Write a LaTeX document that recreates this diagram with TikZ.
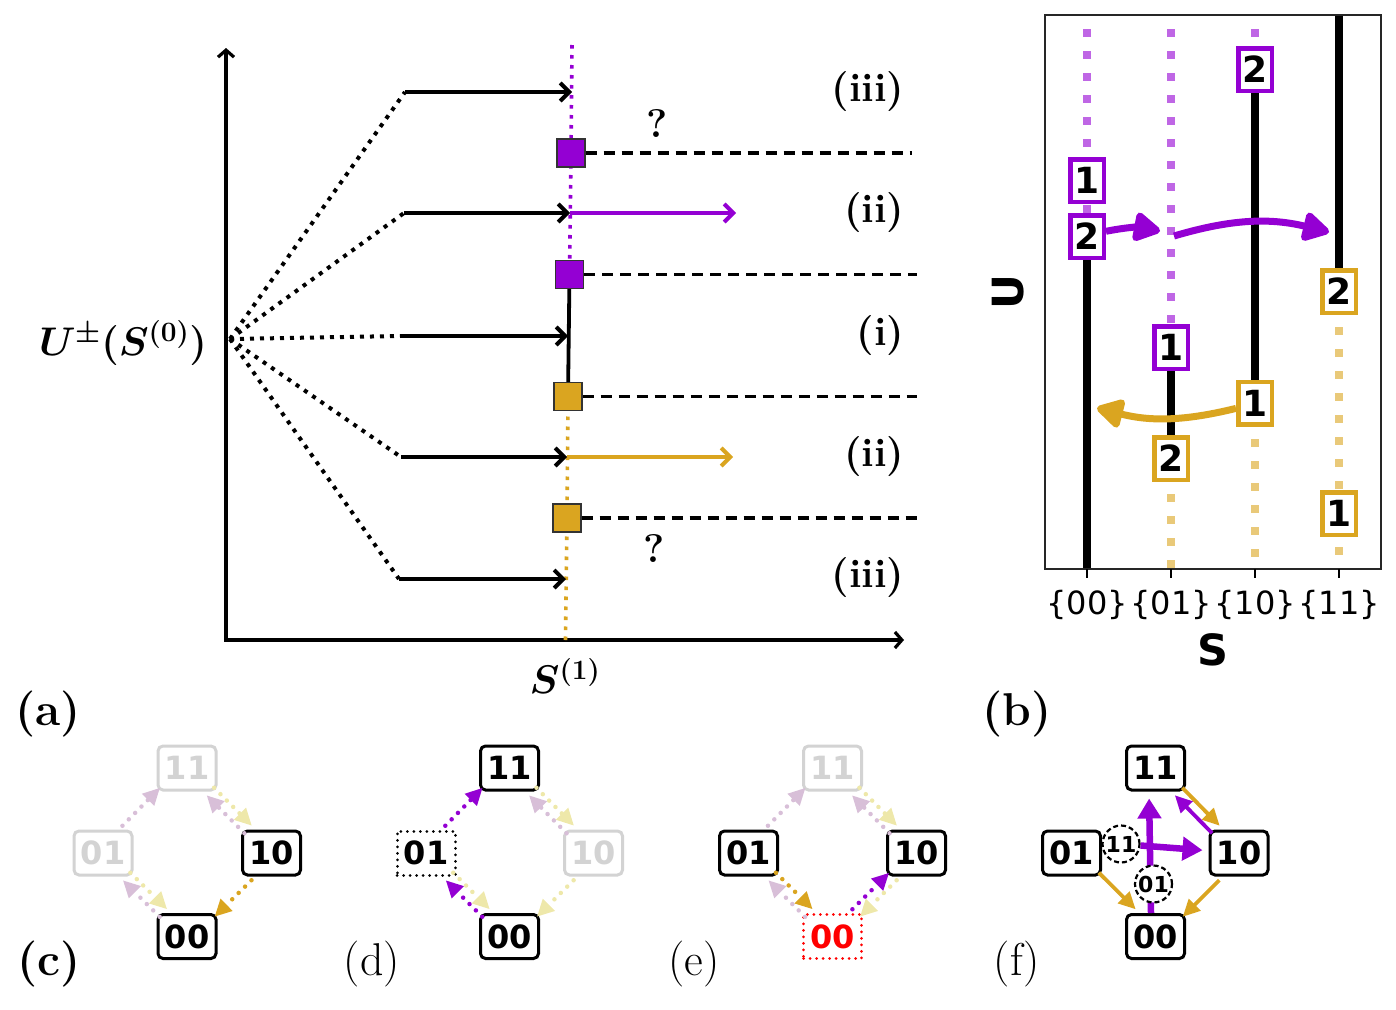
\RequirePackage{fix-cm}
\documentclass[tikz,border=0pt]{standalone}
\usepackage{amsmath}
\usepackage{fontspec}
\usetikzlibrary{arrows.meta}
\newfontfamily\dvs{DejaVu Sans}
\definecolor{dv}{HTML}{9400D3}
\definecolor{gd}{HTML}{DAA520}
\definecolor{lpb}{HTML}{BF66E5}
\definecolor{lgb}{HTML}{E9C979}
\definecolor{thi}{HTML}{D8BFD8}
\definecolor{pgy}{HTML}{EEE8AA}
\definecolor{lgr}{HTML}{D3D3D3}
\newcommand\fbig{\fontsize{40}{48}\selectfont}
\newcommand\fpan{\fontsize{46}{55}\selectfont}
\newcommand\fdig{\dvs\bfseries\fontsize{32}{38}\selectfont}
\newcommand\fbx{\dvs\bfseries\fontsize{36}{42}\selectfont}
\newcommand\fsmall{\dvs\bfseries\fontsize{22}{26}\selectfont}
\begin{document}
\begin{tikzpicture}[x=1pt,y=-1pt,
  fan/.style={line width=4pt, dash pattern=on 4pt off 6pt},
  harr/.style={line width=4pt, -{Straight Barb[length=9pt,width=18pt]}},
  vdot/.style={line width=3.6pt, dash pattern=on 3.6pt off 6.4pt},
  dsh/.style={line width=3.3pt, dash pattern=on 11pt off 7pt},
  sq/.style={draw=black!80, line width=1.3pt, minimum size=28pt, inner sep=0pt},
  lab/.style={font=\fbig\bfseries},
  pan/.style={font=\fpan},
  bl/.style={line width=7.5pt},
  bdot/.style={line width=8pt, dash pattern=on 8pt off 14pt, dash phase=8pt},
  bbox/.style={draw, line width=4.5pt, fill=white, minimum width=33.5pt, minimum height=42.5pt, inner sep=0pt, font=\fbx},
  bigarr/.style={line width=7pt, -{Triangle[length=30pt,width=32pt,round]}},
  st/.style={draw, rounded corners=5pt, line width=3pt, fill=white, minimum width=58pt, minimum height=44pt, inner sep=0pt, font=\fdig},
  gst/.style={st, draw=lgr, text=lgr},
  dotst/.style={st, sharp corners, dash pattern=on 0.01pt off 6.5pt, line cap=round},
  darr/.style={line width=4.5pt, dash pattern=on 0.01pt off 9pt, line cap=round, -{Triangle[length=17pt,width=16pt]}},
  sarr/.style={line width=3.8pt, -{Triangle[length=17pt,width=16pt]}},
  UR/.style={transform canvas={shift={(3.75,-3.75)}}},
  LL/.style={transform canvas={shift={(-3.75,3.75)}}},
  UL/.style={transform canvas={shift={(-3.75,-3.75)}}},
  LR/.style={transform canvas={shift={(3.75,3.75)}}},
  dc/.style={circle, draw, line width=2.2pt, dash pattern=on 5pt off 3pt, fill=white, minimum size=37pt, inner sep=0pt, font=\fsmall}]
\useasboundingbox (0,0) rectangle (1396,1009);

% ================= panel (a)
\draw[line width=3.2pt, {Straight Barb[length=7pt,width=16pt]}-{Straight Barb[length=7pt,width=16pt]}] (226,48) -- (226,640) -- (904,640);
\coordinate (O) at (230,339);
\coordinate (s1) at (405,92);  \coordinate (t1) at (572,92);
\coordinate (s2) at (404,213); \coordinate (t2) at (570,213);
\coordinate (s3) at (400,336); \coordinate (t3) at (568,336);
\coordinate (s4) at (401,457); \coordinate (t4) at (567,457);
\coordinate (s5) at (399,579); \coordinate (t5) at (566,579);
\coordinate (c1) at (571,153);
\coordinate (c2) at (569.5,274.5);
\coordinate (c3) at (568,396.5);
\coordinate (c4) at (567,518);
\coordinate (vtop) at (572,45);
\coordinate (vbot) at (565.5,640);
\draw[vdot, dv] (vtop) -- (c1) -- (c2);
\draw[line width=3.8pt] (c2) -- (c3);
\draw[vdot, gd] (c3) -- (c4) -- (vbot);
\foreach \i in {1,...,5} \draw[fan] (O) -- (s\i);
\coordinate (pu) at (736,213);
\coordinate (po) at (733,457);
\draw[harr, dv] (t2) -- (pu);
\draw[harr, gd] (t4) -- (po);
\foreach \i in {1,...,5} \draw[harr] (s\i) -- (t\i);
\node[sq, fill=dv] (q1) at (c1) {};
\node[sq, fill=dv] (q2) at (c2) {};
\node[sq, fill=gd] (q3) at (c3) {};
\node[sq, fill=gd] (q4) at (c4) {};
\coordinate (d1) at (912,153);
\coordinate (d2) at (917,274.5);
\coordinate (d3) at (917,396.5);
\coordinate (d4) at (917,518);
\draw[dsh] (q1) -- (d1);
\draw[dsh] (q2) -- (d2);
\draw[dsh] (q3) -- (d3);
\draw[dsh] (q4) -- (d4);
\node[lab, anchor=east] (r1) at (908,92) {(iii)};
\node[lab, anchor=east] (r2) at (908,213) {(ii)};
\node[lab, anchor=east] (r3) at (908,336) {(i)};
\node[lab, anchor=east] (r4) at (908,457) {(ii)};
\node[lab, anchor=east] (r5) at (908,578) {(iii)};
\node[lab] (qm1) at (657,123) {?};
\node[lab] (qm2) at (654,548) {?};
\node[font=\fbig] (ul) at (123,343) {$\boldsymbol{U^{\pm}(S^{(0)})}$};
\node[font=\fbig] (sl) at (565,676) {$\boldsymbol{S^{(1)}}$};
\node[font=\fpan\bfseries] (la) at (48,714) {(a)};

% ================= panel (b)
\draw[bdot, lpb] (1087,15) -- (1087,236);
\draw[bl] (1087,236) -- (1087,569);
\draw[bdot, lpb] (1171,15) -- (1171,347);
\draw[bl] (1171,347) -- (1171,458);
\draw[bdot, lgb] (1171,458) -- (1171,569);
\draw[bdot, lpb] (1255,15) -- (1255,69);
\draw[bl] (1255,69) -- (1255,403);
\draw[bdot, lgb] (1255,403) -- (1255,569);
\draw[bl] (1339,15) -- (1339,291);
\draw[bdot, lgb] (1339,291) -- (1339,569);
\draw[line width=2.5pt, black!85] (1045,15) rectangle (1381,569);
\foreach \x in {1087,1171,1255,1339} \draw[line width=2pt] (\x,569) -- (\x,578);
\node[font=\dvs\fontsize{32}{38}\selectfont] (k1) at (1087,605) {\{00\}};
\node[font=\dvs\fontsize{32}{38}\selectfont] (k2) at (1171,605) {\{01\}};
\node[font=\dvs\fontsize{32}{38}\selectfont] (k3) at (1255,605) {\{10\}};
\node[font=\dvs\fontsize{32}{38}\selectfont] (k4) at (1339,605) {\{11\}};
\node[font=\dvs\bfseries\fontsize{43}{50}\selectfont] (xs) at (1213,650) {S};
\node[font=\dvs\bfseries\fontsize{43}{50}\selectfont, rotate=90] (yu) at (1008,292) {U};
\node[bbox, draw=dv] (b00a) at (1087,180.5) {1};
\node[bbox, draw=dv] (b00b) at (1087,236.5) {2};
\node[bbox, draw=dv] (b01a) at (1171,347.5) {1};
\node[bbox, draw=gd] (b01b) at (1171,458.5) {2};
\node[bbox, draw=dv] (b10b) at (1255,69.5) {2};
\node[bbox, draw=gd] (b10a) at (1255,403) {1};
\node[bbox, draw=gd] (b11b) at (1339,291.5) {2};
\node[bbox, draw=gd] (b11a) at (1339,513.5) {1};
\coordinate (pe1) at (1160,231);
\coordinate (ps2) at (1174,236);
\coordinate (pe2) at (1329,232);
\coordinate (pe3) at (1097,408);
\draw[bigarr, dv] (b00b) to[bend left=11] (pe1);
\draw[bigarr, dv] (ps2) to[bend left=15] (pe2);
\draw[bigarr, gd] (b10a) to[bend left=14] (pe3);
\node[font=\fpan\bfseries] (lb) at (1017,714) {(b)};

% ================= panel (c)
\node[gst] (c11) at (187,768) {11};
\node[gst] (c01) at (103,853) {01};
\node[st]  (c10) at (271.5,853) {10};
\node[st]  (c00) at (187,936.5) {00};
\draw[darr, thi, UL] (c01) -- (c11);
\draw[darr, thi, LL] (c10) -- (c11);
\draw[darr, pgy, UR] (c11) -- (c10);
\draw[darr, thi, LL] (c00) -- (c01);
\draw[darr, pgy, UR] (c01) -- (c00);
\draw[darr, gd, LR] (c10) -- (c00);
\node[font=\fpan\bfseries] (lc) at (49,964) {(c)};

% ================= panel (d)
\node[st]    (d11) at (509.5,768) {11};
\node[dotst] (d01) at (426,853) {01};
\node[gst]   (d10) at (593.5,853) {10};
\node[st]    (d00) at (509.5,936.5) {00};
\draw[darr, dv, UL] (d01) -- (d11);
\draw[darr, thi, LL] (d10) -- (d11);
\draw[darr, pgy, UR] (d11) -- (d10);
\draw[darr, dv, LL] (d00) -- (d01);
\draw[darr, pgy, UR] (d01) -- (d00);
\draw[darr, pgy, LR] (d10) -- (d00);
\node[pan] (ld) at (372,964) {(d)};

% ================= panel (e)
\node[gst]   (e11) at (832.5,768) {11};
\node[st]    (e01) at (748.5,853) {01};
\node[st]    (e10) at (916.5,853) {10};
\node[dotst, draw=red, text=red] (e00) at (832.5,936.5) {00};
\draw[darr, thi, UL] (e01) -- (e11);
\draw[darr, thi, LL] (e10) -- (e11);
\draw[darr, pgy, UR] (e11) -- (e10);
\draw[darr, thi, LL] (e00) -- (e01);
\draw[darr, gd, UR] (e01) -- (e00);
\draw[darr, dv, UL] (e00) -- (e10);
\draw[darr, pgy, LR] (e10) -- (e00);
\node[pan] (le) at (694,964) {(e)};

% ================= panel (f)
\node[st] (f11) at (1155.5,768) {11};
\node[st] (f01) at (1071.5,853) {01};
\node[st] (f10) at (1239,853) {10};
\node[st] (f00) at (1155.5,936.5) {00};
\draw[sarr, gd, UR] (f11) -- (f10);
\draw[sarr, dv, LL] (f10) -- (f11);
\draw[sarr, gd, UR] (f01) -- (f00);
\draw[sarr, gd, LR] (f10) -- (f00);
\draw[line width=6.5pt, dv, -{Triangle[length=20pt,width=23pt]}, shorten >=7pt] ([xshift=-4.5pt]f00.north) -- ([xshift=-6.5pt]f11.south);
\node[dc] (fc01) at (1153.5,884) {01};
\node[dc] (fc11) at (1121,844) {11};
\draw[line width=6.5pt, dv, -{Triangle[length=20pt,width=23pt]}, shorten >=6pt] (fc11) -- (f10);
\node[pan] (lf) at (1017,964) {(f)};
\end{tikzpicture}
\end{document}
